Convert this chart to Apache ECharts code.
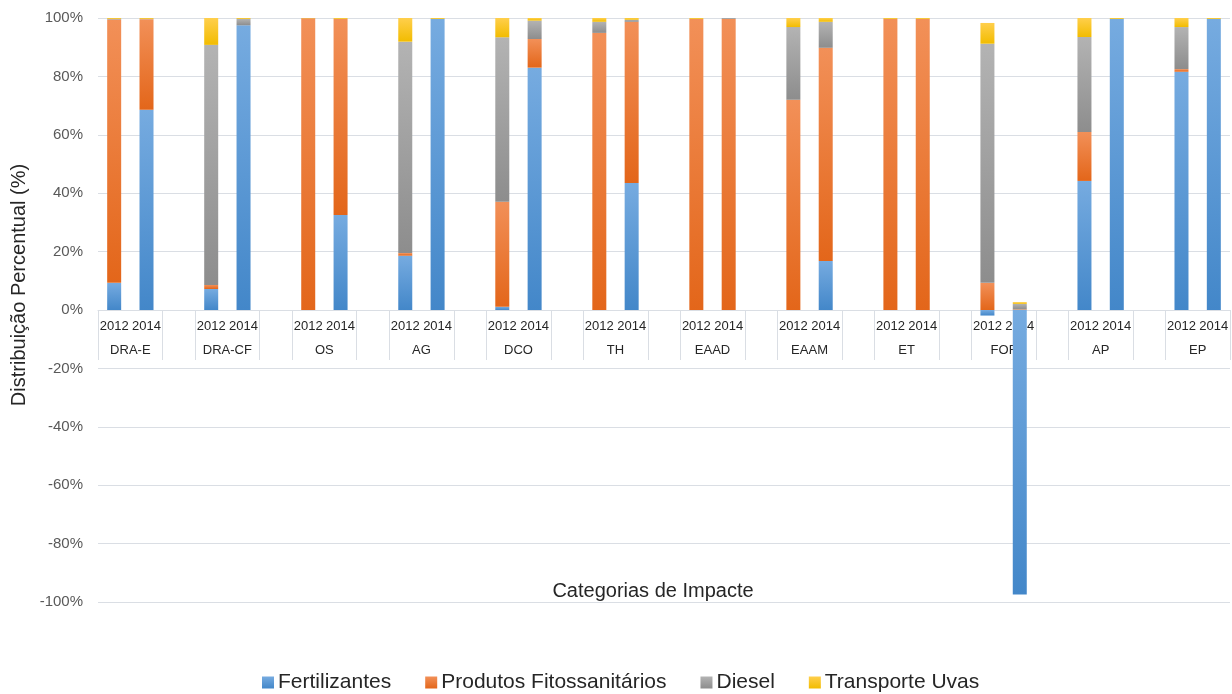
<!DOCTYPE html>
<html>
<head>
<meta charset="utf-8">
<script src="https://cdn.jsdelivr.net/npm/echarts@6/dist/echarts.min.js"></script>
<style>
  html, body { margin: 0; padding: 0; background: #ffffff; }
  #chart { width: 1232px; height: 694px; }
</style>
</head>
<body>
<div id="chart"></div>
<script>
// Impact categories and the two assessed years
const groups = ['DRA-E', 'DRA-CF', 'OS', 'AG', 'DCO', 'TH', 'EAAD', 'EAAM', 'ET', 'FOF', 'AP', 'EP'];
const years = ['2012', '2014'];

// Percentage contribution of each input, listed group by group (2012, 2014)
const fertilizantes = [9.3, 68.6, 7.2, 97.5, 0, 32.5, 18.6, 99.7, 1.1, 83.0, 0, 43.5, 0, 0, 0, 16.8, 0, 0, -1.9, -97.4, 44.2, 99.7, 81.6, 99.7];
const produtos      = [90.2, 31.0, 1.4, 0, 99.9, 67.2, 0.9, 0, 36.0, 9.8, 94.9, 55.2, 99.7, 99.7, 72.0, 73.0, 99.7, 99.7, 9.3, 0.2, 16.8, 0, 0.9, 0];
const diesel        = [0.2, 0.1, 82.2, 2.2, 0, 0, 72.4, 0, 56.3, 6.3, 3.8, 0.7, 0, 0.3, 24.9, 8.9, 0, 0, 81.9, 1.9, 32.5, 0, 14.4, 0];
const transporte    = [0.3, 0.3, 9.2, 0.3, 0.1, 0.3, 8.1, 0.3, 6.6, 0.9, 1.3, 0.6, 0.3, 0, 3.1, 1.3, 0.3, 0.3, 7.1, 0.6, 6.5, 0.3, 3.1, 0.3];

const yTicks = { min: -100, max: 100, step: 20 };

// Category axis: 2012, 2014 and an empty spacer slot between impact groups
const categories = [];
const categoryGroup = [];
const slotIndex = [];
groups.forEach((g, gi) => {
  years.forEach((y) => {
    slotIndex.push(categories.length);
    categories.push(y);
    categoryGroup.push(g);
  });
  if (gi < groups.length - 1) {
    categories.push('');
    categoryGroup.push('');
  }
});

function spread(values) {
  const out = new Array(categories.length).fill(null);
  values.forEach((v, i) => { out[slotIndex[i]] = v; });
  return out;
}

const chartWidth = 1232, chartHeight = 694;
const gridLeft = 98, gridRight = 2, gridTop = 18, gridBottom = 92;
const slot = (chartWidth - gridLeft - gridRight) / categories.length;
// distance from the bottom of the plot up to the zero line
const plotHeight = chartHeight - gridTop - gridBottom;
const zeroOffset = plotHeight * (0 - yTicks.min) / (yTicks.max - yTicks.min);

function grad(top, bottom) {
  return new echarts.graphic.LinearGradient(0, 0, 0, 1, [
    { offset: 0, color: top },
    { offset: 1, color: bottom }
  ]);
}

const fontFamily = "'Liberation Sans', Arial, sans-serif";
const lineColor = '#dadee4';

const seriesDefs = [
  { name: 'Fertilizantes', data: fertilizantes, color: grad('#76abe0', '#4387c9') },
  { name: 'Produtos Fitossanitários', data: produtos, color: grad('#f29058', '#e3661a') },
  { name: 'Diesel', data: diesel, color: grad('#b3b3b3', '#8d8d8d') },
  { name: 'Transporte Uvas', data: transporte, color: grad('#ffcf4c', '#f2bc00') }
];

const chart = echarts.init(document.getElementById('chart'), null, { renderer: 'canvas' });

chart.setOption({
  animation: false,
  backgroundColor: '#ffffff',
  textStyle: { fontFamily: fontFamily },
  grid: { left: gridLeft, right: gridRight, top: gridTop, bottom: gridBottom, containLabel: false },
  legend: {
    top: 672,
    left: 262,
    padding: 0,
    itemWidth: 12,
    itemHeight: 12,
    itemGap: 34,
    icon: 'rect',
    textStyle: { fontSize: 21, color: '#262626', fontFamily: fontFamily, padding: [0, 0, 0, -1] },
    data: seriesDefs.map(s => s.name)
  },
  xAxis: {
    type: 'category',
    position: 'bottom',
    offset: -zeroOffset,
    data: categories,
    axisLine: { onZero: false, lineStyle: { color: lineColor, width: 1 } },
    axisTick: {
      show: true,
      length: 50,
      interval: (i, v) => v !== '2014',
      lineStyle: { color: lineColor, width: 1 }
    },
    axisLabel: {
      interval: 0,
      margin: 4,
      fontSize: 13,
      lineHeight: 24,
      color: '#262626',
      fontFamily: fontFamily,
      formatter: (value, idx) => {
        if (value === '2012') return '2012\n{g|' + categoryGroup[idx] + '}';
        return value;
      },
      rich: {
        g: { fontSize: 13, lineHeight: 24, color: '#262626', fontFamily: fontFamily, padding: [0, 0, 0, slot] }
      }
    },
    splitLine: { show: false }
  },
  yAxis: {
    type: 'value',
    min: yTicks.min,
    max: yTicks.max,
    interval: yTicks.step,
    axisLine: { show: false },
    axisTick: { show: false },
    axisLabel: { formatter: '{value}%', fontSize: 15, color: '#595959', margin: 15, fontFamily: fontFamily },
    splitLine: { lineStyle: { color: lineColor, width: 1 } }
  },
  graphic: [
    {
      type: 'text',
      x: 19, y: 285,
      rotation: Math.PI / 2,
      style: {
        text: 'Distribuição Percentual (%)',
        fontSize: 20,
        fontFamily: fontFamily,
        fill: '#262626',
        align: 'center',
        verticalAlign: 'middle'
      }
    },
    {
      type: 'text',
      x: 653, y: 591,
      style: {
        text: 'Categorias de Impacte',
        fontSize: 20,
        fontFamily: fontFamily,
        fill: '#262626',
        align: 'center',
        verticalAlign: 'middle'
      }
    }
  ],
  series: seriesDefs.map(s => ({
    name: s.name,
    type: 'bar',
    stack: 'total',
    barWidth: 14,
    itemStyle: { color: s.color },
    emphasis: { disabled: true },
    data: spread(s.data)
  }))
});
</script>
</body>
</html>
